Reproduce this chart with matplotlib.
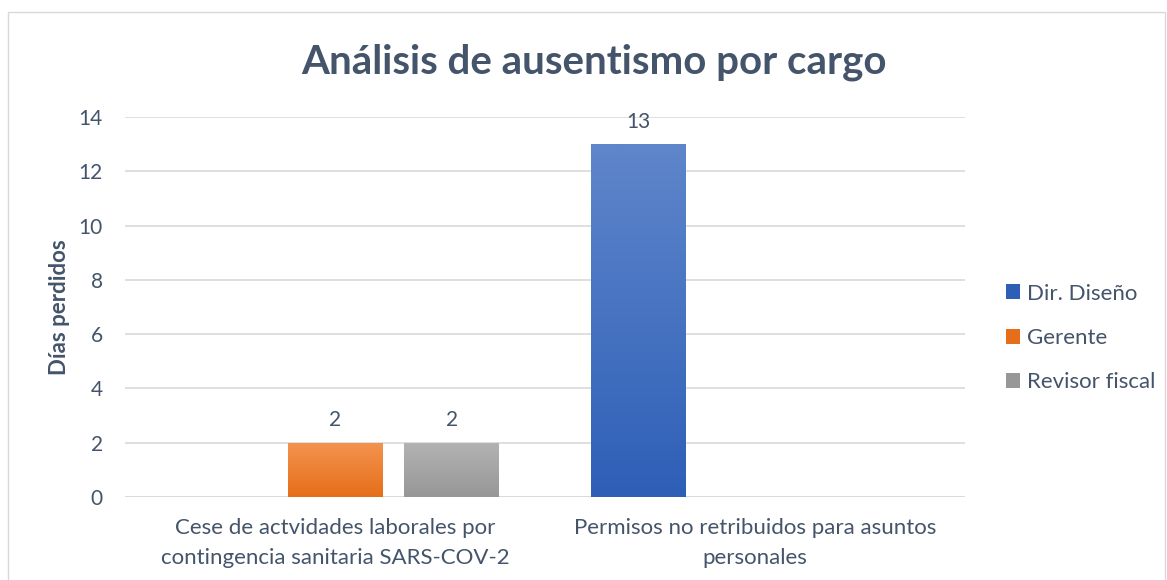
import numpy as np
import matplotlib.pyplot as plt
from matplotlib.colors import LinearSegmentedColormap
from matplotlib.patches import Rectangle

plt.rcParams['font.family'] = ['Lato', 'DejaVu Sans']

# data
categories = ['Cese de actvidades laborales por\ncontingencia sanitaria SARS-COV-2',
              'Permisos no retribuidos para asuntos\npersonales']
series = ['Dir. Diseño', 'Gerente', 'Revisor fiscal']
dir_diseno = [np.nan, 13]
gerente = [2, np.nan]
revisor = [2, np.nan]
values = [dir_diseno, gerente, revisor]

# gradient colours (top, bottom)
grads = [('#5F86CB', '#2E5FB7'), ('#F3944F', '#E66E1A'), ('#B3B3B3', '#979797')]
txt = '#44546A'

fig = plt.figure(figsize=(11.67, 5.8), dpi=100)
ax = fig.add_axes([125/1167, 1 - 497/580, 840/1167, 380/580])

x = np.arange(len(categories))
step = 0.278
width = 0.226

for i, (name, vals) in enumerate(zip(series, values)):
    cmap = LinearSegmentedColormap.from_list(name, [grads[i][1], grads[i][0]])
    pos = x + (i - 1) * step
    for xp, v in zip(pos, vals):
        if np.isnan(v):
            continue
        bar = Rectangle((xp - width / 2, 0), width, v, facecolor='none', edgecolor='none')
        ax.add_patch(bar)
        grad = np.linspace(0, 1, 256).reshape(-1, 1)
        im = ax.imshow(grad, cmap=cmap, origin='lower', aspect='auto',
                       extent=[xp - width / 2, xp + width / 2, 0, v], zorder=2)
        im.set_clip_path(bar)
        ax.text(xp, v + 0.45, f'{int(v)}', ha='center', va='bottom', fontsize=15, color=txt)
    # legend handle
    ax.bar([0], [0], color=grads[i][1], label=name)

ax.set_xlim(-0.5, 1.5)
ax.set_ylim(0, 14)
ax.set_yticks(range(0, 15, 2))
ax.set_xticks(x)
ax.set_xticklabels(categories, fontsize=16, color=txt, linespacing=1.62)
ax.tick_params(axis='y', labelsize=15, labelcolor=txt, length=0, pad=16)
ax.tick_params(axis='x', length=0, pad=15)
ax.grid(axis='y', color='#D9D9D9', linewidth=1.2, zorder=0)
ax.set_axisbelow(True)
for s in ax.spines.values():
    s.set_visible(False)
ax.axhline(0, color='#D9D9D9', linewidth=1.2, zorder=1)

fig.text(60/1167, 1 - 307/580, 'Días perdidos', rotation=90, ha='center', va='center',
         fontsize=16, fontweight='bold', color=txt)
fig.text(594/1167, 1 - 62/580, 'Análisis de ausentismo por cargo', ha='center', va='center',
         fontsize=29, fontweight='bold', color=txt)

leg = fig.legend(loc='center left', bbox_to_anchor=(986/1167, 1 - 338/580), frameon=False,
                 fontsize=16, labelcolor=txt, handlelength=0.65, handleheight=0.65,
                 handletextpad=0.3, labelspacing=1.1)

# chart border
fig.patches.append(Rectangle((8/1167, -0.01), 1157/1167, 1 - 12/580 + 0.01, transform=fig.transFigure,
                             fill=False, edgecolor='#D9D9D9', linewidth=1))

fig.savefig('out.png', dpi=100)
